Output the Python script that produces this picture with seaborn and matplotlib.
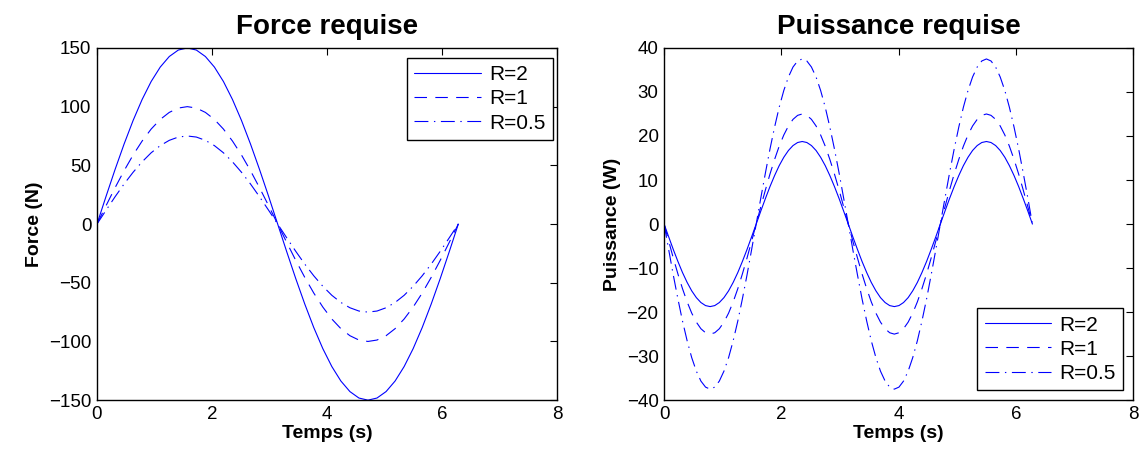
import pandas as pd
import matplotlib
matplotlib.use('Agg')
import matplotlib.pyplot as plt
import seaborn as sns

# time samples for the force panel (s)
t_force = [0.000, 0.157, 0.314, 0.471, 0.628, 0.785, 0.942, 1.100, 1.257, 1.414,
           1.571, 1.728, 1.885, 2.042, 2.199, 2.356, 2.513, 2.670, 2.827, 2.985,
           3.142, 3.299, 3.456, 3.613, 3.770, 3.927, 4.084, 4.241, 4.398, 4.555,
           4.712, 4.869, 5.027, 5.184, 5.341, 5.498, 5.655, 5.812, 5.969, 6.126,
           6.283]

# force (N)
force_r2 = [0, 23.5, 46.4, 68.1, 88.2, 106.1, 121.4, 133.7, 142.7, 148.2,
            150, 148.2, 142.7, 133.7, 121.4, 106.1, 88.2, 68.1, 46.4, 23.5,
            0, -23.5, -46.4, -68.1, -88.2, -106.1, -121.4, -133.7, -142.7, -148.2,
            -150, -148.2, -142.7, -133.7, -121.4, -106.1, -88.2, -68.1, -46.4, -23.5,
            0]
force_r1 = [0, 15.6, 30.9, 45.4, 58.8, 70.7, 80.9, 89.1, 95.1, 98.8,
            100, 98.8, 95.1, 89.1, 80.9, 70.7, 58.8, 45.4, 30.9, 15.6,
            0, -15.6, -30.9, -45.4, -58.8, -70.7, -80.9, -89.1, -95.1, -98.8,
            -100, -98.8, -95.1, -89.1, -80.9, -70.7, -58.8, -45.4, -30.9, -15.6,
            0]
force_r05 = [0, 11.7, 23.2, 34.1, 44.1, 53.0, 60.7, 66.8, 71.3, 74.1,
             75, 74.1, 71.3, 66.8, 60.7, 53.0, 44.1, 34.1, 23.2, 11.7,
             0, -11.7, -23.2, -34.1, -44.1, -53.0, -60.7, -66.8, -71.3, -74.1,
             -75, -74.1, -71.3, -66.8, -60.7, -53.0, -44.1, -34.1, -23.2, -11.7,
             0]

# time samples for the power panel (s)
t_power = [0.000, 0.079, 0.157, 0.236, 0.314, 0.393, 0.471, 0.550, 0.628, 0.707,
           0.785, 0.864, 0.942, 1.021, 1.100, 1.178, 1.257, 1.335, 1.414, 1.492,
           1.571, 1.649, 1.728, 1.806, 1.885, 1.963, 2.042, 2.121, 2.199, 2.278,
           2.356, 2.435, 2.513, 2.592, 2.670, 2.749, 2.827, 2.906, 2.985, 3.063,
           3.142, 3.220, 3.299, 3.377, 3.456, 3.534, 3.613, 3.691, 3.770, 3.848,
           3.927, 4.006, 4.084, 4.163, 4.241, 4.320, 4.398, 4.477, 4.555, 4.634,
           4.712, 4.791, 4.869, 4.948, 5.027, 5.105, 5.184, 5.262, 5.341, 5.419,
           5.498, 5.576, 5.655, 5.733, 5.812, 5.890, 5.969, 6.048, 6.126, 6.205,
           6.283]

# power (W)
power_r2 = [0, -2.93, -5.79, -8.51, -11.02, -13.26, -15.17, -16.71, -17.83, -18.52,
            -18.75, -18.52, -17.83, -16.71, -15.17, -13.26, -11.02, -8.51, -5.79, -2.93,
            0, 2.93, 5.79, 8.51, 11.02, 13.26, 15.17, 16.71, 17.83, 18.52,
            18.75, 18.52, 17.83, 16.71, 15.17, 13.26, 11.02, 8.51, 5.79, 2.93,
            0, -2.93, -5.79, -8.51, -11.02, -13.26, -15.17, -16.71, -17.83, -18.52,
            -18.75, -18.52, -17.83, -16.71, -15.17, -13.26, -11.02, -8.51, -5.79, -2.93,
            0, 2.93, 5.79, 8.51, 11.02, 13.26, 15.17, 16.71, 17.83, 18.52,
            18.75, 18.52, 17.83, 16.71, 15.17, 13.26, 11.02, 8.51, 5.79, 2.93,
            0]
power_r1 = [0, -3.91, -7.73, -11.35, -14.69, -17.68, -20.23, -22.28, -23.78, -24.69,
            -25, -24.69, -23.78, -22.28, -20.23, -17.68, -14.69, -11.35, -7.73, -3.91,
            0, 3.91, 7.73, 11.35, 14.69, 17.68, 20.23, 22.28, 23.78, 24.69,
            25, 24.69, 23.78, 22.28, 20.23, 17.68, 14.69, 11.35, 7.73, 3.91,
            0, -3.91, -7.73, -11.35, -14.69, -17.68, -20.23, -22.28, -23.78, -24.69,
            -25, -24.69, -23.78, -22.28, -20.23, -17.68, -14.69, -11.35, -7.73, -3.91,
            0, 3.91, 7.73, 11.35, 14.69, 17.68, 20.23, 22.28, 23.78, 24.69,
            25, 24.69, 23.78, 22.28, 20.23, 17.68, 14.69, 11.35, 7.73, 3.91,
            0]
power_r05 = [0, -5.87, -11.59, -17.03, -22.04, -26.52, -30.34, -33.41, -35.67, -37.04,
             -37.5, -37.04, -35.67, -33.41, -30.34, -26.52, -22.04, -17.03, -11.59, -5.87,
             0, 5.87, 11.59, 17.03, 22.04, 26.52, 30.34, 33.41, 35.67, 37.04,
             37.5, 37.04, 35.67, 33.41, 30.34, 26.52, 22.04, 17.03, 11.59, 5.87,
             0, -5.87, -11.59, -17.03, -22.04, -26.52, -30.34, -33.41, -35.67, -37.04,
             -37.5, -37.04, -35.67, -33.41, -30.34, -26.52, -22.04, -17.03, -11.59, -5.87,
             0, 5.87, 11.59, 17.03, 22.04, 26.52, 30.34, 33.41, 35.67, 37.04,
             37.5, 37.04, 35.67, 33.41, 30.34, 26.52, 22.04, 17.03, 11.59, 5.87,
             0]

labels = ['R=2', 'R=1', 'R=0.5']
styles = ['-', (0, (9, 6)), (0, (10, 4, 1, 4))]

sns.set_theme(style='white')
plt.rcParams['font.family'] = ['Liberation Sans', 'DejaVu Sans']
plt.rcParams['xtick.direction'] = 'in'
plt.rcParams['ytick.direction'] = 'in'
plt.rcParams['xtick.top'] = True
plt.rcParams['ytick.right'] = True
plt.rcParams['axes.edgecolor'] = 'black'
plt.rcParams['axes.linewidth'] = 1.0
plt.rcParams['text.color'] = 'black'
plt.rcParams['axes.labelcolor'] = 'black'
plt.rcParams['lines.scale_dashes'] = False

fig = plt.figure(figsize=(11.45, 4.61), dpi=100)
ax1 = fig.add_axes([0.0847, 0.132, 0.4018, 0.764])
ax2 = fig.add_axes([0.5800, 0.132, 0.4096, 0.764])

def draw(ax, t, series, title, ylabel, ylim, yticks, legloc, anchor):
    for y, lab, ls in zip(series, labels, styles):
        df = pd.DataFrame({'t': t, 'v': y})
        sns.lineplot(data=df, x='t', y='v', ax=ax, color='blue',
                     linewidth=0.8, linestyle=ls, label=lab)
    ax.set_xlim(0, 8)
    ax.set_ylim(*ylim)
    ax.set_xticks([0, 2, 4, 6, 8])
    ax.set_yticks(yticks)
    ax.tick_params(labelsize=13.5, length=5, width=0.8, colors='black', pad=4)
    ax.set_title(title, fontsize=20, fontweight='bold', pad=10)
    ax.set_xlabel('Temps (s)', fontsize=14, fontweight='bold', labelpad=2)
    ax.set_ylabel(ylabel, fontsize=14, fontweight='bold', labelpad=4)
    leg = ax.legend(loc=legloc, bbox_to_anchor=anchor, borderaxespad=0,
                    fontsize=15, handlelength=3.2, frameon=True,
                    fancybox=False, framealpha=1, edgecolor='black',
                    labelspacing=0.25, handletextpad=0.4, borderpad=0.35)
    leg.get_frame().set_linewidth(1.0)

draw(ax1, t_force, [force_r2, force_r1, force_r05], 'Force requise', 'Force (N)',
     (-150, 150), [-150, -100, -50, 0, 50, 100, 150], 'upper right', (0.991, 0.972))
draw(ax2, t_power, [power_r2, power_r1, power_r05], 'Puissance requise', 'Puissance (W)',
     (-40, 40), [-40, -30, -20, -10, 0, 10, 20, 30, 40], 'lower right', (0.979, 0.028))

fig.savefig('out.png', dpi=100)
